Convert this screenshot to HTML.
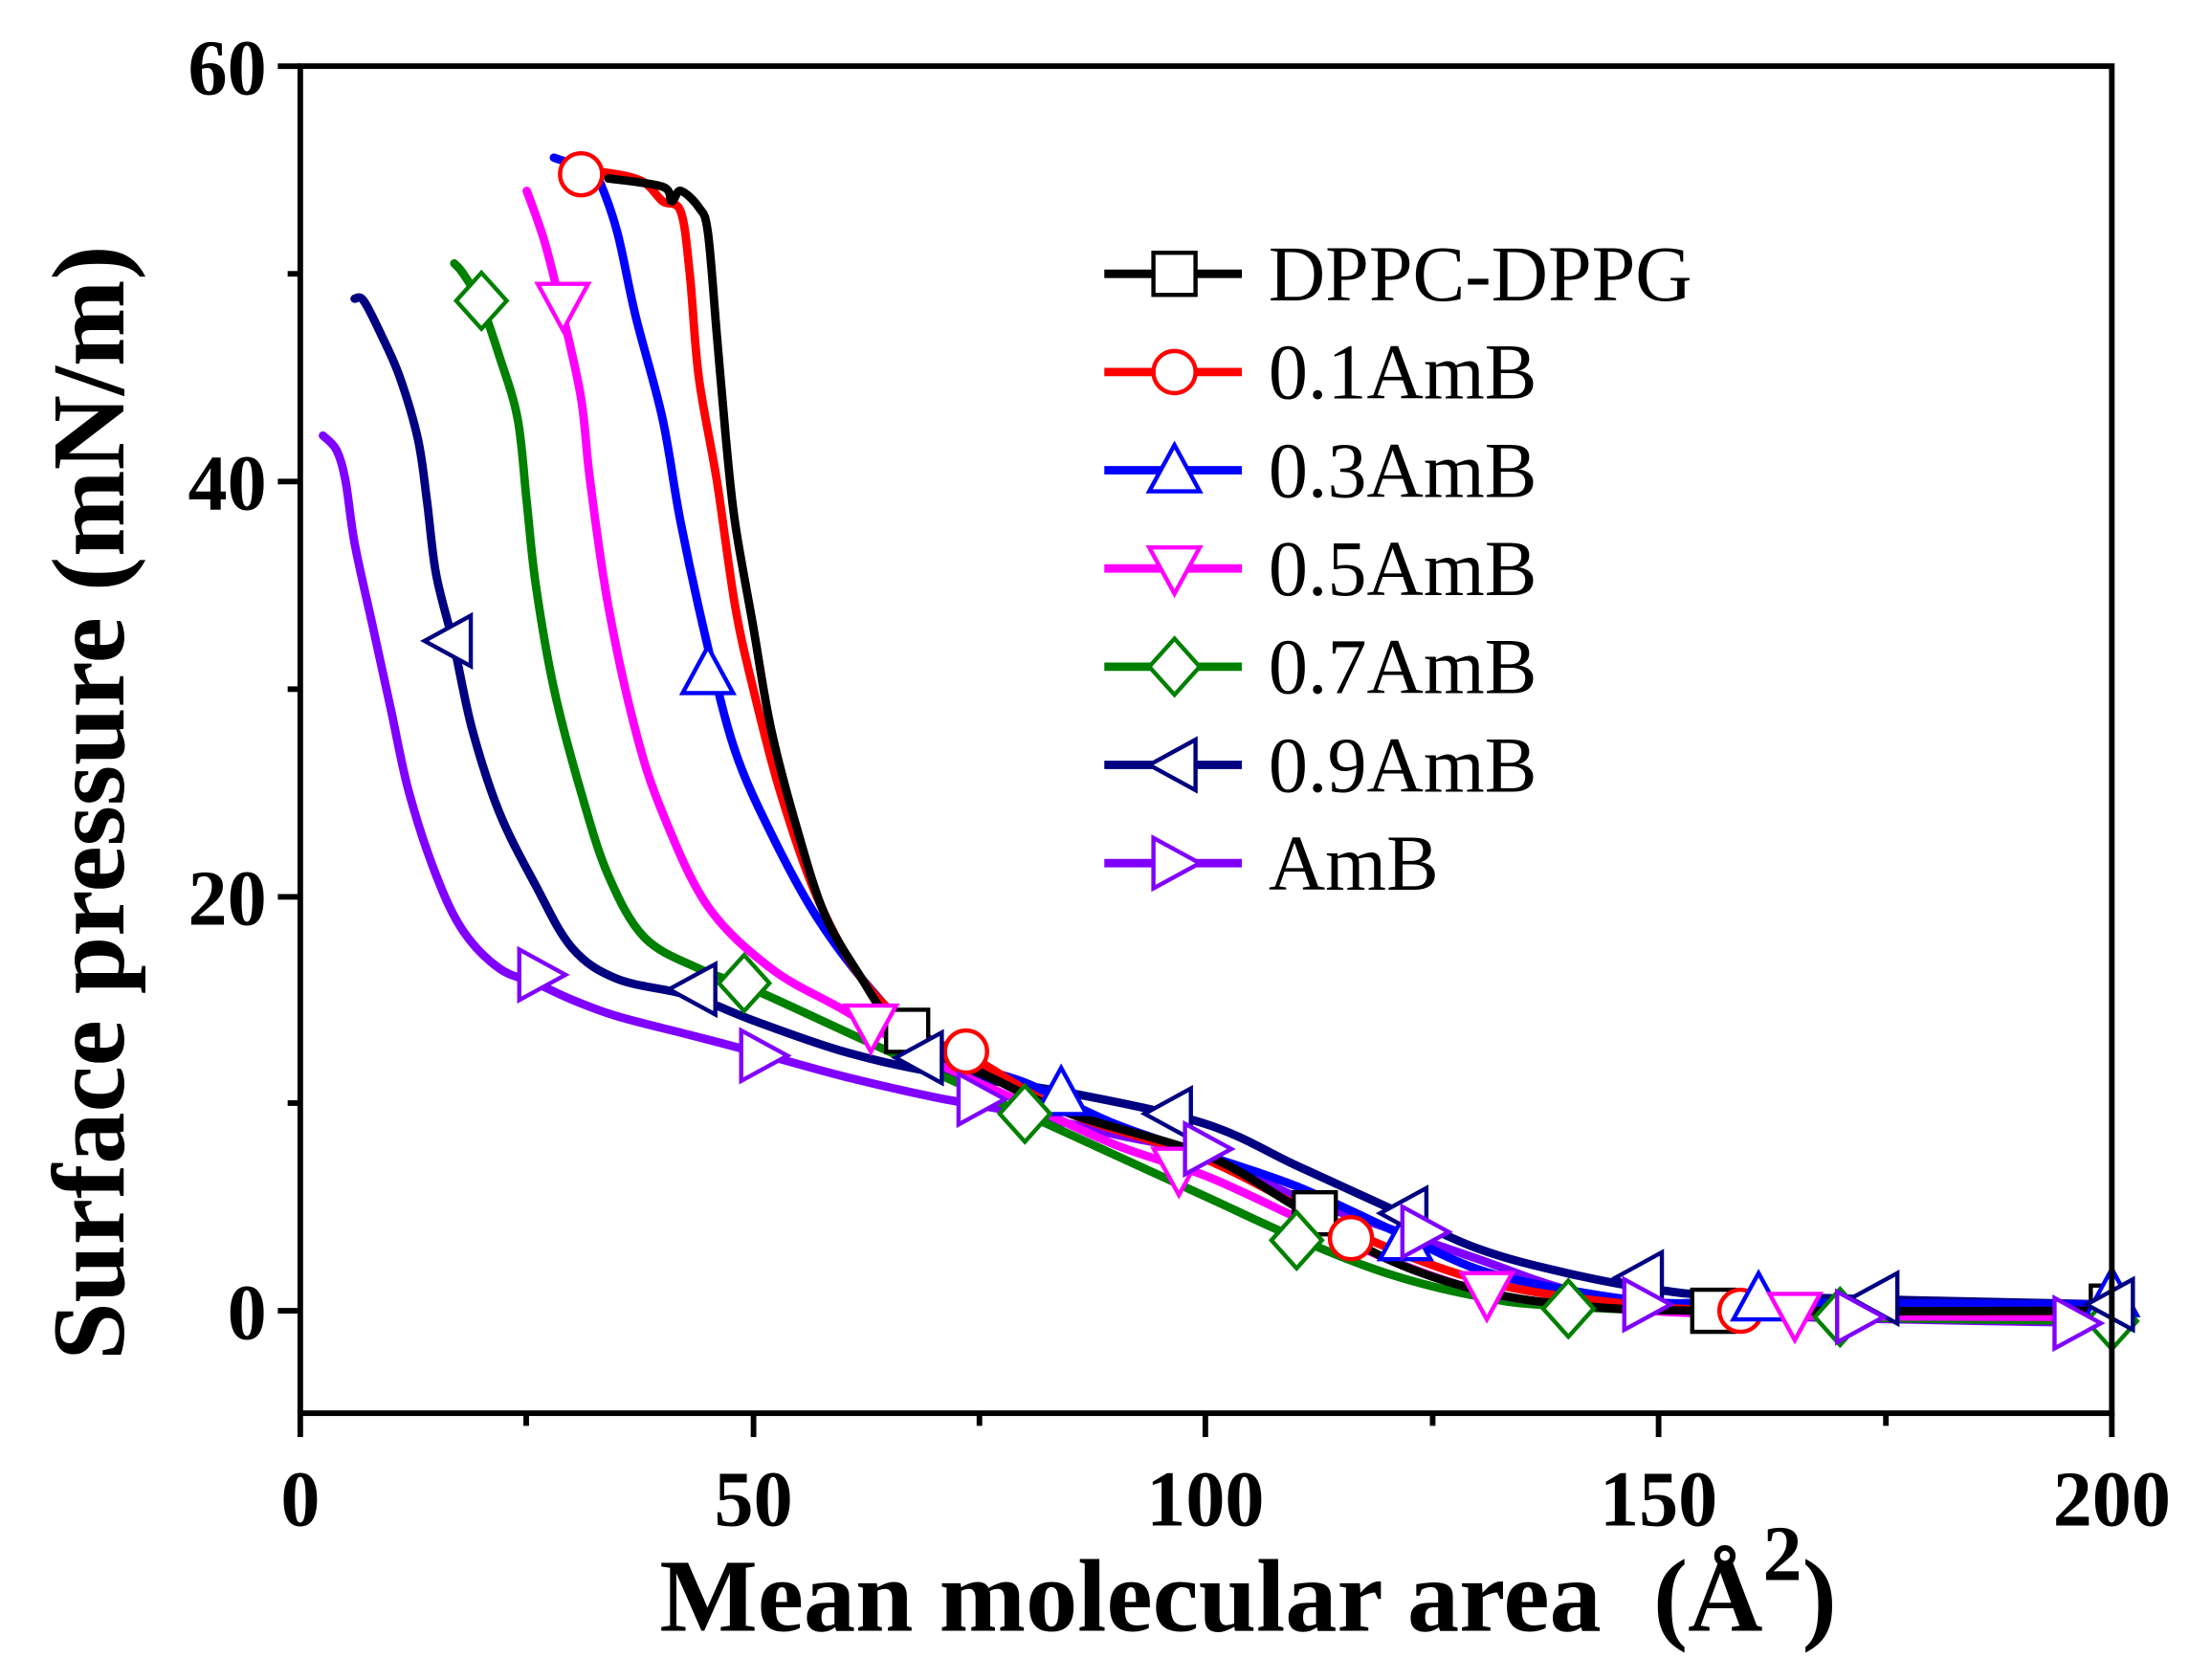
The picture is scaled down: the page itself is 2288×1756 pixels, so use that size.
<!DOCTYPE html>
<html><head><meta charset="utf-8"><style>
html,body{margin:0;padding:0;background:#fff}
svg{display:block}
</style></head><body>
<svg id="s" width="2288" height="1756" viewBox="0 0 1560 1197" xmlns="http://www.w3.org/2000/svg" font-family="Liberation Serif, serif">
<rect width="1560" height="1197" fill="#fff"/>
<g id="data"></g>
<g stroke="#000" stroke-width="4" fill="none">
<rect x="214" y="47" width="1291" height="960"/>
<line x1="198" y1="47" x2="214" y2="47"/>
<line x1="198" y1="343" x2="214" y2="343"/>
<line x1="198" y1="639" x2="214" y2="639"/>
<line x1="198" y1="934" x2="214" y2="934"/>
<line x1="205" y1="195" x2="214" y2="195"/>
<line x1="205" y1="491" x2="214" y2="491"/>
<line x1="205" y1="786" x2="214" y2="786"/>
<line x1="214" y1="1007" x2="214" y2="1024"/>
<line x1="537" y1="1007" x2="537" y2="1024"/>
<line x1="859" y1="1007" x2="859" y2="1024"/>
<line x1="1182" y1="1007" x2="1182" y2="1024"/>
<line x1="1505" y1="1007" x2="1505" y2="1024"/>
<line x1="375" y1="1007" x2="375" y2="1016"/>
<line x1="698" y1="1007" x2="698" y2="1016"/>
<line x1="1021" y1="1007" x2="1021" y2="1016"/>
<line x1="1344" y1="1007" x2="1344" y2="1016"/>
</g>
<g font-size="56" font-weight="bold" text-anchor="end">
<text x="190" y="67">60</text>
<text x="190" y="363">40</text>
<text x="190" y="659">20</text>
<text x="190" y="954">0</text>
</g>
<g font-size="56" font-weight="bold" text-anchor="middle">
<text x="214" y="1087">0</text>
<text x="537" y="1087">50</text>
<text x="859" y="1087">100</text>
<text x="1182" y="1087">150</text>
<text x="1505" y="1087">200</text>
</g>
<text x="470" y="1162" font-size="74" font-weight="bold">Mean molecular area&#160; (Å<tspan font-size="56" dy="-36">2</tspan><tspan dy="36">)</tspan></text>
<text transform="translate(88,572) rotate(-90)" font-size="74" font-weight="bold" text-anchor="middle">Surface pressure (mN/m)</text>
<g id="leg" font-size="56"></g>
</svg>
<script>
const X=a=>214+a*6.455, Y=p=>934-p*14.78;
const S=[
["DPPC-DPPG","#000","sq",[[34,54.6],[40,54.2],[41,53.5],[42,54],[44,53.2],[45,52],[46,47],[47,42],[48,38],[50,33],[52,28],[55,23],[58,19],[62,16],[65,14],[68,12.8],[75,11.5],[85,9.5],[100,7.5],[110,5],[120,2.5],[130,1],[140,0.3],[155,0],[200,0]],[[67,13.5],[112,4.7],[156,0],[200,0.2]]],
["0.1AmB","#f00","ci",[[31,55],[35,54.8],[38,54.4],[40,53.5],[42,53],[43,50],[44,45],[46,40],[48,34],[50,30],[53,25],[57,20],[62,16],[68,13.5],[75,12],[85,9.5],[100,7.3],[115,4],[130,1.5],[145,0.4],[160,0],[200,0]],[[31,54.8],[73.5,12.5],[116,3.5],[159,0]]],
["0.3AmB","#00f","up",[[28,55.6],[30,55.3],[32,55],[33,54.5],[35,52],[37,48],[40,43],[42,38],[45,32],[48,27],[52,23],[57,19],[63,15.5],[70,12.5],[80,11],[90,9],[100,7.5],[110,6],[120,4],[130,2],[140,1],[150,0.4],[160,0.4],[200,0.3]],[[45,30.8],[84,10.5],[122,3.5],[161,0.6],[200,0.8]]],
["0.5AmB","#f0f","dn",[[25,54],[27,51.5],[29,48],[31,44],[32,40],[34,34],[37,28],[40,24],[45,19.5],[52,16.5],[60,14.5],[70,12],[80,10],[90,8],[100,6.5],[110,4.5],[120,2.5],[130,1],[140,0.3],[160,-0.2],[200,-0.3]],[[29,48.5],[63,13.7],[97,6.8],[131,0.8],[165,-0.2]]],
["0.7AmB","#008000","di",[[17,50.5],[18,50],[20,48.5],[22,46],[24,43],[25,39],[26,35],[28,30],[31,25],[34,21],[38,18],[44,16.5],[50,15.5],[60,13.5],[70,11.5],[80,9.5],[90,7.5],[100,5.5],[110,3.5],[120,1.8],[130,0.7],[140,0.2],[170,-0.3],[200,-0.5]],[[20,48.7],[49,15.8],[80,9.5],[110,3.4],[140,0.1],[170,-0.3],[200,-0.5]]],
["0.9AmB","#000080","lt",[[6,48.8],[7,48.7],[9,47],[11,45],[13,42],[14,39],[15,35.5],[17,32],[19,28],[22,24],[26,20.5],[30,17.5],[35,16],[43,15.2],[50,14],[60,12.5],[70,11.5],[85,10.5],[100,9],[110,7],[120,5],[130,3],[140,1.8],[150,1],[160,0.7],[200,0.3]],[[16.5,32.3],[43.5,15.5],[68.5,12.2],[96,9.5],[122,4.7],[148,1.6],[174,0.6],[200,0.3]]],
["AmB","#8000ff","rt",[[2.5,42.2],[4,41.5],[5,40],[6,37],[8,33],[10,29],[12,25],[15,21],[18,18.3],[22,16.5],[26,15.8],[30,15],[35,14.2],[43,13.3],[50,12.5],[60,11.3],[70,10.3],[80,9.5],[90,8.5],[100,7.5],[110,5.5],[120,4],[130,2.5],[140,1],[150,0.3],[160,-0.2],[175,-0.4],[200,-0.6]],[[26.5,16.2],[51,12.3],[75,10.2],[100,7.8],[124,3.8],[148.5,0.3],[172,-0.3],[196,-0.6]]]
];
function mk(t,x,y,c){const r=15;let d;
if(t=="sq")return `<rect x="${x-r}" y="${y-r}" width="${2*r}" height="${2*r}" fill="#fff" stroke="${c}" stroke-width="3"/>`;
if(t=="ci")return `<circle cx="${x}" cy="${y}" r="${r}" fill="#fff" stroke="${c}" stroke-width="3"/>`;
if(t=="up")d=[[x,y-r-3],[x+r+3,y+r],[x-r-3,y+r]];
if(t=="dn")d=[[x,y+r+3],[x+r+3,y-r],[x-r-3,y-r]];
if(t=="di")d=[[x,y-r-5],[x+r+3,y],[x,y+r+5],[x-r-3,y]];
if(t=="lt")d=[[x-r-3,y],[x+r,y-r-3],[x+r,y+r+3]];
if(t=="rt")d=[[x+r+3,y],[x-r,y-r-3],[x-r,y+r+3]];
return `<polygon points="${d.map(p=>p.join(',')).join(' ')}" fill="#fff" stroke="${c}" stroke-width="3"/>`;}
function smooth(pts){const P=pts.map(p=>[X(p[0]),Y(p[1])]);let d=`M${P[0][0]},${P[0][1]}`;
for(let i=0;i<P.length-1;i++){const p0=P[i-1]||P[i],p1=P[i],p2=P[i+1],p3=P[i+2]||p2;
const c1=[p1[0]+(p2[0]-p0[0])/6,p1[1]+(p2[1]-p0[1])/6],c2=[p2[0]-(p3[0]-p1[0])/6,p2[1]-(p3[1]-p1[1])/6];
d+=` C${c1[0]},${c1[1]} ${c2[0]},${c2[1]} ${p2[0]},${p2[1]}`;}return d;}
let h="",lg="";
S.slice().reverse().forEach(s=>{h+=`<path fill="none" stroke="${s[1]}" stroke-width="6" stroke-linejoin="round" stroke-linecap="round" d="${smooth(s[3])}"/>`;});
S.forEach(s=>{s[4].forEach(p=>h+=mk(s[2],X(p[0]),Y(p[1]),s[1]));});
S.forEach((s,i)=>{const y=195+i*70;lg+=`<line x1="787" y1="${y}" x2="885" y2="${y}" stroke="${s[1]}" stroke-width="6"/>`+mk(s[2],837,y,s[1])+`<text x="904" y="${y+19}">${s[0]}</text>`;});
document.getElementById('data').innerHTML=h;
document.getElementById('leg').innerHTML=lg;
</script>
</body></html>
